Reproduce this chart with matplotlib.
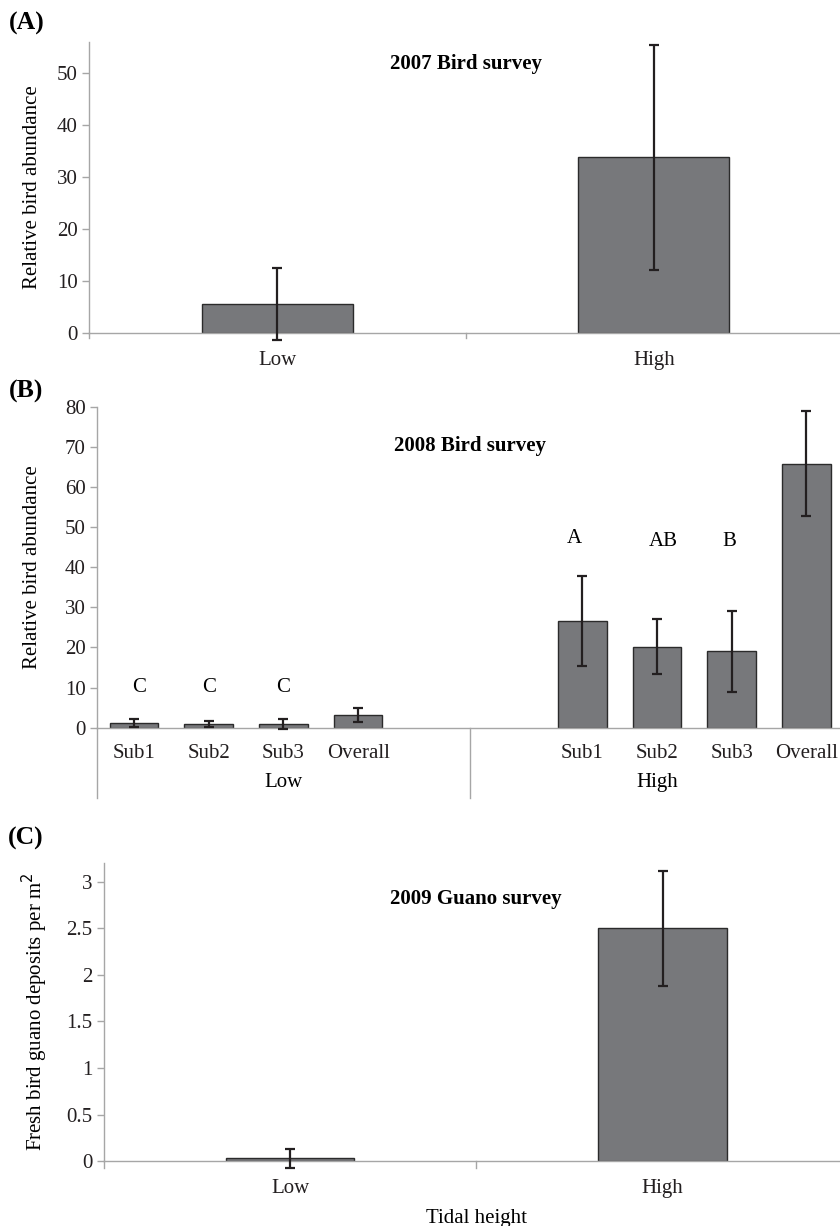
import matplotlib.pyplot as plt
import matplotlib.transforms as mtransforms

plt.rcParams['font.family'] = ['Liberation Serif', 'DejaVu Serif']
plt.rcParams['font.size'] = 15

# panel A: 2007 bird survey
a_cats = ['Low', 'High']
a_vals = [5.6, 33.8]
a_errs = [6.9, 21.6]

# panel B: 2008 bird survey (subsites within tidal height)
b_subs = ['Sub1', 'Sub2', 'Sub3', 'Overall']
b_groups = ['Low', 'High']
b_low_vals = [1.3, 0.9, 0.9, 3.2]
b_low_errs = [1.0, 0.8, 1.2, 1.65]
b_high_vals = [26.5, 20.2, 19.0, 65.8]
b_high_errs = [11.2, 6.9, 10.0, 13.0]
b_low_letters = ['C', 'C', 'C']
b_high_letters = ['A', 'AB', 'B']

# panel C: 2009 guano survey
c_cats = ['Low', 'High']
c_vals = [0.03, 2.5]
c_errs = [0.10, 0.62]

BAR = '#77787b'
EDGE = '#2b2b2b'
AXC = '#a6a6a6'
ERR = '#231f20'


def style_axes(ax, ylim, yticks, yfmt=None, xpad=10):
    ax.set_ylim(*ylim)
    ax.set_yticks(yticks)
    if yfmt:
        ax.set_yticklabels([yfmt(v) for v in yticks])
    for s in ['top', 'right']:
        ax.spines[s].set_visible(False)
    for s in ['left', 'bottom']:
        ax.spines[s].set_color(AXC)
        ax.spines[s].set_linewidth(1.0)
    ax.tick_params(axis='y', colors=AXC, labelcolor='#231f20', length=5, width=1.0, pad=3)
    ax.tick_params(axis='x', length=0, labelcolor='#231f20', pad=xpad)


def bars(ax, xs, vals, errs, width):
    ax.bar(xs, vals, width=width, color=BAR, edgecolor=EDGE, linewidth=1.0, zorder=2)
    ax.errorbar(xs, vals, yerr=errs, fmt='none', ecolor=ERR, elinewidth=1.6,
                capsize=3.5, capthick=1.6, zorder=3, clip_on=False)


fig = plt.figure(figsize=(8.4, 12.26), dpi=100)

# ---- (A)
axA = fig.add_axes([0.106, 0.7284, 0.8964, 0.2373])
xa = list(range(len(a_cats)))
bars(axA, xa, a_vals, a_errs, 0.40)
axA.set_xlim(-0.5, 1.5)
style_axes(axA, (0, 56), [0, 10, 20, 30, 40, 50], xpad=13)
axA.set_xticks(xa)
axA.set_xticklabels(a_cats)
tr = mtransforms.blended_transform_factory(axA.transData, axA.transAxes)
for x in [-0.5, 0.5, 1.5]:
    axA.plot([x, x], [0, -0.018], color=AXC, lw=1.0, transform=tr, clip_on=False)
axA.set_ylabel('Relative bird abundance', labelpad=11)
axA.text(0.5, 0.925, '2007 Bird survey', transform=axA.transAxes, ha='center', va='center',
         fontweight='bold')
fig.text(0.011, 0.981, '(A)', fontsize=18.5, fontweight='bold', va='center')

# ---- (B)
axB = fig.add_axes([0.1151, 0.4064, 0.8893, 0.2619])
xb_low = [0, 1, 2, 3]
xb_high = [6, 7, 8, 9]
bars(axB, xb_low, b_low_vals, b_low_errs, 0.65)
bars(axB, xb_high, b_high_vals, b_high_errs, 0.65)
axB.set_xlim(-0.5, 9.5)
style_axes(axB, (0, 80), list(range(0, 81, 10)), xpad=12)
axB.set_xticks(xb_low + xb_high)
axB.set_xticklabels(b_subs + b_subs)
trB = mtransforms.blended_transform_factory(axB.transData, axB.transAxes)
for x in [-0.5, 4.5, 9.5]:
    axB.plot([x, x], [0, -0.22], color=AXC, lw=1.0, transform=trB, clip_on=False)
axB.text(2.0, -0.172, b_groups[0], transform=trB, ha='center', va='center')
axB.text(7.0, -0.172, b_groups[1], transform=trB, ha='center', va='center')
for x, t in zip(xb_low[:3], b_low_letters):
    axB.text(x + (0.07 if x == 0 else 0.0), 10, t, ha='center', va='center')
for x, t, y in zip(xb_high[:3], b_high_letters, [47.2, 46.4, 46.4]):
    axB.text(x + {6: -0.1, 7: 0.08, 8: -0.03}[x], y, t, ha='center', va='center')
axB.set_ylabel('Relative bird abundance', labelpad=16)
axB.text(0.5, 0.879, '2008 Bird survey', transform=axB.transAxes, ha='center', va='center',
         fontweight='bold')
fig.text(0.011, 0.681, '(B)', fontsize=18.5, fontweight='bold', va='center')

# ---- (C)
axC = fig.add_axes([0.1235, 0.0530, 0.887, 0.2428])
xc = list(range(len(c_cats)))
bars(axC, xc, c_vals, c_errs, 0.345)
axC.set_xlim(-0.5, 1.5)
style_axes(axC, (0, 3.2), [0, 0.5, 1, 1.5, 2, 2.5, 3], yfmt=lambda v: f'{v:g}', xpad=13)
axC.set_xticks(xc)
axC.set_xticklabels(c_cats)
trC = mtransforms.blended_transform_factory(axC.transData, axC.transAxes)
for x in [-0.5, 0.5, 1.5]:
    axC.plot([x, x], [0, -0.022], color=AXC, lw=1.0, transform=trC, clip_on=False)
axC.set_ylabel('Fresh bird guano deposits per m$^2$', labelpad=12)
axC.set_xlabel('Tidal height', labelpad=8)
axC.text(0.5, 0.88, '2009 Guano survey', transform=axC.transAxes, ha='center', va='center',
         fontweight='bold')
fig.text(0.009, 0.3165, '(C)', fontsize=18.5, fontweight='bold', va='center')

fig.savefig('out.png', dpi=100)
